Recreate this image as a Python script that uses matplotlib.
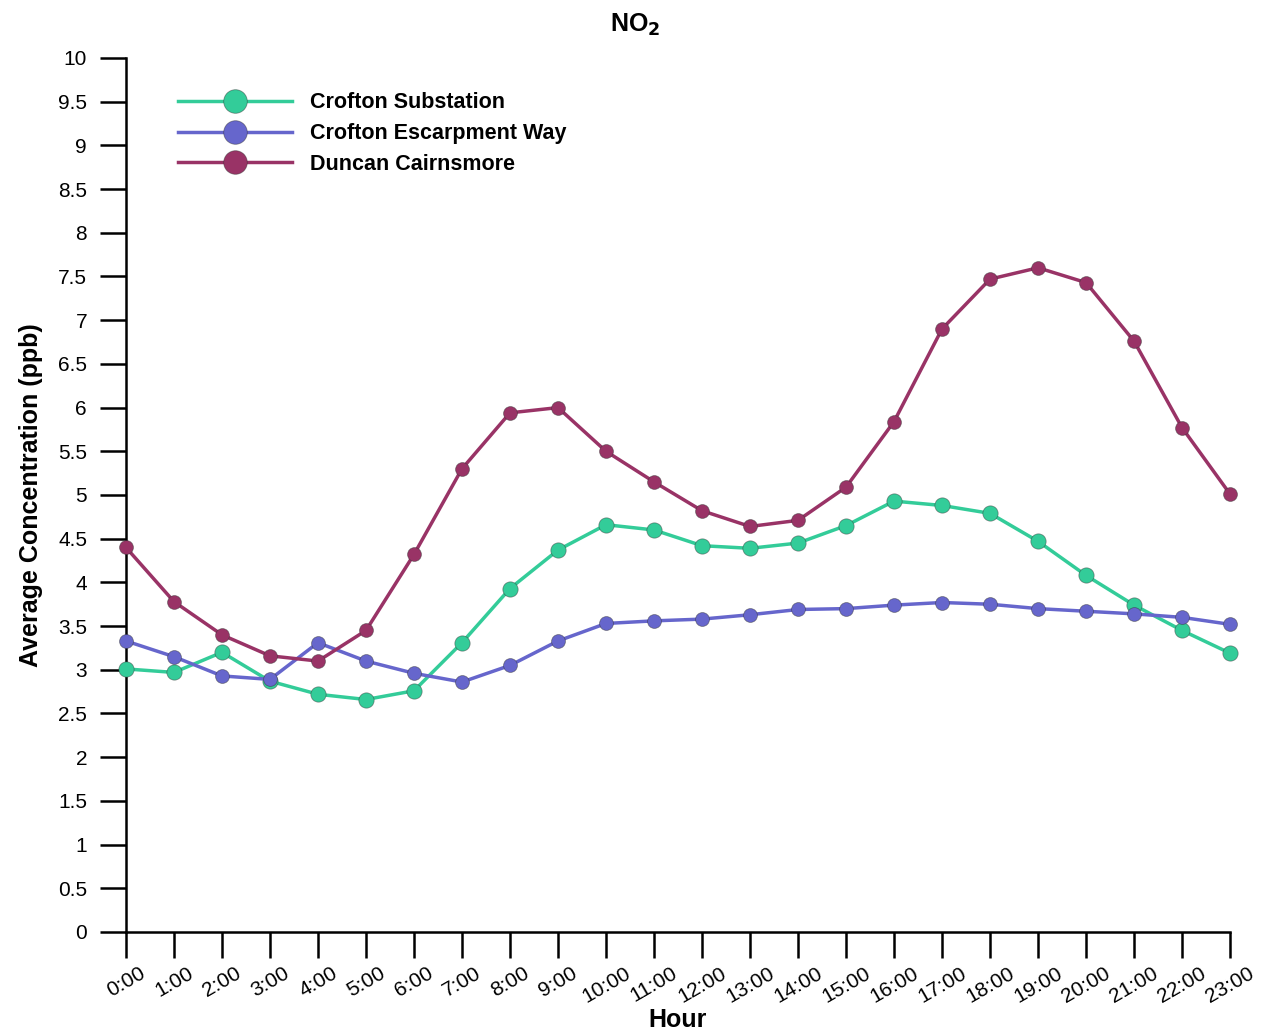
import matplotlib
matplotlib.use("Agg")
import matplotlib.pyplot as plt
from matplotlib.lines import Line2D

plt.rcParams['font.family'] = ['Liberation Sans', 'DejaVu Sans']

hours = ["%d:00" % h for h in range(24)]
crofton_sub = [3.01, 2.97, 3.20, 2.87, 2.72, 2.66, 2.76, 3.31, 3.93, 4.37, 4.66, 4.60,
               4.42, 4.39, 4.45, 4.65, 4.93, 4.88, 4.79, 4.47, 4.08, 3.74, 3.45, 3.19]
crofton_esc = [3.33, 3.15, 2.93, 2.89, 3.31, 3.10, 2.96, 2.86, 3.05, 3.33, 3.53, 3.56,
               3.58, 3.63, 3.69, 3.70, 3.74, 3.77, 3.75, 3.70, 3.67, 3.64, 3.60, 3.52]
duncan = [4.40, 3.78, 3.40, 3.16, 3.10, 3.45, 4.32, 5.30, 5.94, 6.00, 5.50, 5.15,
          4.82, 4.64, 4.71, 5.09, 5.84, 6.90, 7.47, 7.60, 7.43, 6.76, 5.77, 5.01]
names = ["Crofton Substation", "Crofton Escarpment Way", "Duncan Cairnsmore"]
colors = ["#33CC99", "#6666CC", "#993366"]
msizes = [11, 10, 10]

fig = plt.figure(figsize=(12.62, 10.32), dpi=100)
ax = fig.add_axes([0.0998, 0.0969, 0.8749, 0.8469])

x = list(range(len(hours)))
handles = []
for ys, c, ms, name in zip([crofton_sub, crofton_esc, duncan], colors, msizes, names):
    ax.plot(x, ys, color=c, lw=2.5, marker="o", ms=ms, mfc=c,
            mec=(0.2, 0.2, 0.2, 0.5), mew=0.6, zorder=3, clip_on=False)
    handles.append(Line2D([0], [0], color=c, lw=2.5, marker="o", ms=17, mfc=c,
                          mec=(0.2, 0.2, 0.2, 0.5), mew=0.6, label=name))

ax.set_xlim(0, 23)
ax.set_ylim(0, 10)
ax.set_xticks(x)
ax.set_xticklabels(hours, rotation=30, ha="center", fontsize=15)
ax.set_yticks([i * 0.5 for i in range(21)])
ax.set_yticklabels(["%g" % (i * 0.5) for i in range(21)], fontsize=15)
ax.tick_params(axis="both", direction="out", length=19, width=1.8, color="black")
ax.tick_params(axis="x", pad=4)
ax.tick_params(axis="y", pad=9)
for s in ["top", "right"]:
    ax.spines[s].set_visible(False)
for s in ["left", "bottom"]:
    ax.spines[s].set_linewidth(1.8)

ax.set_xlabel("Hour", fontsize=18, fontweight="bold")
ax.xaxis.set_label_coords(0.5, -0.087)
ax.set_ylabel("Average Concentration (ppb)", fontsize=18, fontweight="bold")
ax.yaxis.set_label_coords(-0.075, 0.5)
fig.text(0.503, 1 - 25 / 1032, "NO$_\\mathbf{2}$", ha="center", va="center",
         fontsize=18, fontweight="bold")

leg = ax.legend(handles=handles, loc="upper left", bbox_to_anchor=(0.047, 0.9606),
                frameon=False, handlelength=5.3, handletextpad=0.85,
                labelspacing=0.45, borderpad=0, borderaxespad=0,
                prop={"weight": "bold", "size": 15.5})

fig.savefig("out.png", dpi=100)
